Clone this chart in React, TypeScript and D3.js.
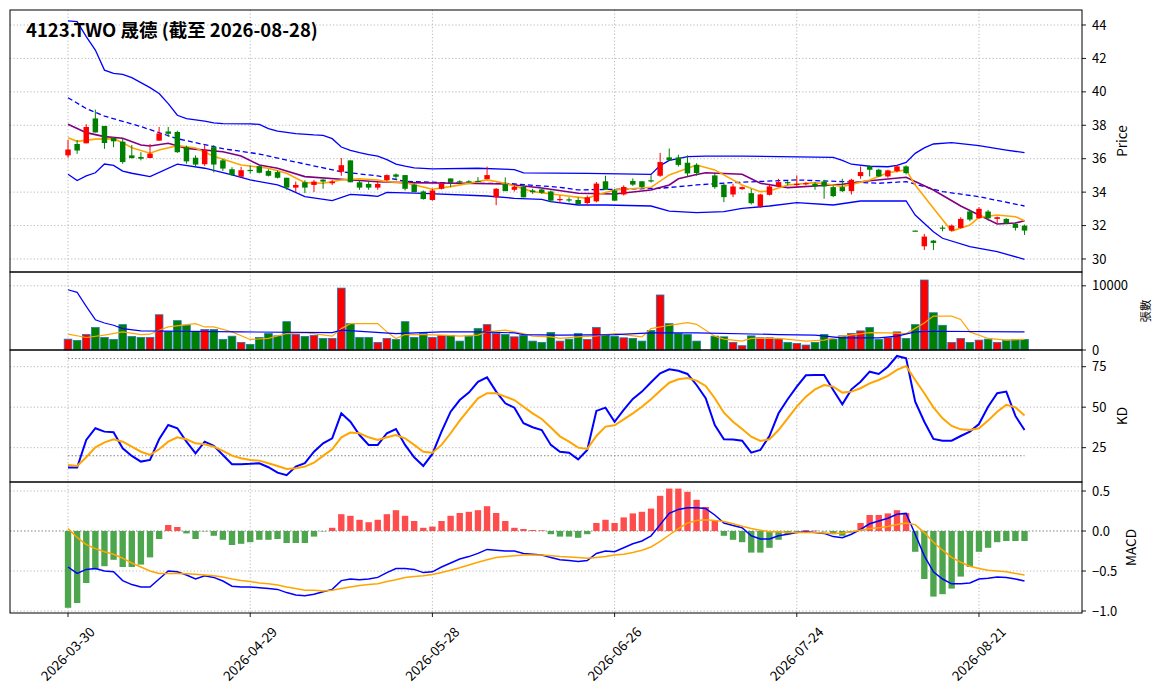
import React, { useEffect } from 'react';
import * as d3 from 'd3';

const title = '4123.TWO 晟德 (截至 2026-08-28)';
const xTickIndex = [0, 20, 40, 60, 80, 100];
const xTickLabels = ['2026-03-30', '2026-04-29', '2026-05-28', '2026-06-26', '2026-07-24', '2026-08-21'];

// OHLC per trading day (index 70 has no trade data)
const openP: (number | null)[] = [
  36.20, 36.88, 36.92, 38.41, 37.96, 37.24, 37.02, 36.20, 36.10, 36.04,
  37.08, 37.63, 37.60, 36.69, 36.06, 35.67, 36.69, 35.90, 35.37, 34.92,
  35.33, 35.55, 35.27, 35.20, 34.86, 34.27, 34.59, 34.43, 34.75, 34.53,
  35.22, 35.90, 34.59, 34.49, 34.27, 34.71, 35.06, 35.02, 34.45, 34.04,
  33.53, 34.20, 34.82, 34.65, 34.65, 34.67, 34.78, 33.69, 34.47, 34.14,
  34.31, 34.10, 34.16, 34.04, 33.53, 33.57, 33.53, 33.35, 33.45, 34.65,
  34.10, 33.86, 34.67, 34.65, 34.71, 34.98, 36.08, 36.08, 35.76, 35.63,
  null, 35.00, 34.44, 33.86, 34.18, 33.94, 33.14, 33.84, 34.34, 34.60,
  34.42, 34.48, 34.50, 34.64, 34.30, 34.30, 34.06, 34.96, 35.54, 35.34,
  34.94, 35.26, 35.54, 31.70, 30.76, 31.10, 31.88, 31.70, 31.86, 32.84,
  32.44, 32.84, 32.40, 32.40, 32.10, 32.00,
];
const highP: (number | null)[] = [
  37.12, 37.12, 38.06, 38.94, 37.96, 37.27, 37.18, 36.82, 36.39, 36.88,
  37.90, 37.90, 37.67, 36.78, 36.20, 36.82, 36.82, 36.00, 35.49, 35.51,
  35.60, 35.60, 35.37, 35.30, 34.86, 34.63, 34.71, 34.73, 34.78, 34.73,
  36.04, 35.90, 34.71, 34.67, 34.63, 35.06, 35.12, 35.02, 34.51, 34.10,
  34.20, 34.57, 34.82, 34.71, 34.71, 34.90, 35.53, 34.24, 34.88, 34.41,
  34.45, 34.20, 34.20, 34.10, 33.80, 33.69, 33.69, 33.80, 34.61, 34.98,
  34.20, 34.41, 34.82, 34.65, 35.02, 36.35, 36.61, 36.24, 36.20, 35.73,
  null, 35.10, 34.50, 34.50, 34.34, 34.20, 33.90, 34.50, 34.80, 34.66,
  35.00, 34.60, 34.60, 34.74, 34.40, 34.80, 34.80, 35.54, 35.60, 35.40,
  35.34, 35.60, 35.60, 31.70, 31.50, 31.14, 32.00, 32.06, 32.50, 32.94,
  33.10, 32.94, 32.54, 32.44, 32.20, 32.06,
];
const lowP: (number | null)[] = [
  36.06, 36.29, 36.92, 37.57, 36.59, 36.69, 35.70, 36.00, 35.90, 36.04,
  37.08, 37.31, 36.35, 35.70, 35.50, 35.57, 35.18, 35.27, 34.98, 34.92,
  35.12, 35.12, 34.94, 34.82, 34.14, 34.00, 33.94, 34.00, 34.20, 34.43,
  34.98, 34.59, 34.14, 34.14, 34.14, 34.65, 34.71, 34.10, 34.00, 33.55,
  33.49, 34.16, 34.30, 34.51, 34.57, 34.60, 34.78, 33.22, 34.06, 34.04,
  33.69, 33.90, 33.90, 33.39, 33.35, 33.39, 33.22, 33.22, 33.39, 34.14,
  33.49, 33.80, 34.37, 34.24, 34.57, 34.92, 35.90, 35.53, 34.92, 34.98,
  null, 34.20, 33.40, 33.70, 34.14, 33.26, 33.06, 33.80, 34.30, 34.40,
  34.30, 34.40, 34.14, 33.60, 33.70, 34.00, 33.86, 34.80, 34.94, 34.90,
  34.86, 35.18, 35.06, 31.66, 30.54, 30.54, 31.66, 31.66, 31.82, 32.26,
  32.40, 32.30, 32.14, 32.10, 31.70, 31.44,
];
const closeP: (number | null)[] = [
  36.55, 36.49, 37.90, 37.57, 36.94, 37.04, 35.80, 36.04, 36.00, 36.30,
  37.51, 37.49, 36.39, 35.84, 35.65, 36.53, 35.65, 35.41, 35.02, 35.31,
  35.27, 35.16, 34.98, 34.86, 34.27, 34.43, 34.27, 34.63, 34.63, 34.63,
  35.61, 34.59, 34.27, 34.27, 34.49, 35.02, 34.92, 34.20, 34.00, 33.59,
  34.10, 34.51, 34.61, 34.61, 34.61, 34.63, 35.02, 34.20, 34.06, 34.31,
  33.69, 34.00, 33.96, 33.49, 33.59, 33.55, 33.29, 33.69, 34.51, 34.14,
  33.49, 34.31, 34.45, 34.31, 34.67, 35.80, 35.90, 35.63, 35.12, 35.14,
  null, 34.30, 33.70, 34.34, 34.30, 33.34, 33.86, 34.34, 34.60, 34.54,
  34.50, 34.54, 34.34, 34.34, 33.76, 34.06, 34.74, 35.20, 35.34, 34.94,
  35.30, 35.54, 35.14, 31.66, 31.34, 30.96, 31.84, 32.00, 32.40, 32.36,
  33.00, 32.44, 32.50, 32.14, 31.86, 31.70,
];
const volume: (number | null)[] = [
  1690, 1490, 2410, 3490, 1950, 1640, 3950, 2100, 1950, 1950,
  5490, 2920, 4570, 3850, 2920, 3180, 3180, 1640, 2150, 1180,
  870, 1950, 2565, 2200, 4410, 2410, 2100, 2260, 1800, 1800,
  9640, 4100, 1950, 1950, 1180, 1800, 1640, 4410, 1950, 2565,
  1950, 2260, 2260, 1385, 2150, 3330, 3950, 2565, 2410, 2050,
  2260, 1385, 1180, 2720, 1385, 1690, 2565, 1640, 3490, 2310,
  2150, 1900, 1800, 1385, 3030, 8570, 4100, 2565, 2410, 1385,
  null, 2150, 2050, 1180, 670, 2200, 1900, 1900, 1690, 1180,
  1030, 770, 1180, 2410, 1690, 2200, 2565, 2975, 3490, 1640,
  1900, 2820, 1800, 3950, 10900, 5800, 3850, 1180, 1800, 1180,
  1540, 1690, 1180, 1540, 1640, 1640,
];

// Price overlays, read as [day index, value]
const bbUpper: [number, number][] = [
  [0, 44.25], [1, 44.2], [2, 43.3], [3, 42.5], [4, 41.3], [5, 41.1], [6, 41.05], [7, 40.85], [8, 40.55],
  [9, 40.25], [10, 39.9], [11, 39.3], [12, 38.6], [13, 38.4], [14, 38.32], [15, 38.25], [16, 38.15],
  [17, 38.1], [20, 38.08], [21, 38.05], [22, 37.8], [23, 37.65], [24, 37.58], [25, 37.5], [27, 37.42],
  [28, 37.4], [29, 37.2], [30, 36.7], [31, 36.5], [32, 36.36], [33, 36.25], [34, 36.15], [35, 35.95],
  [36, 35.68], [37, 35.55], [38, 35.45], [40, 35.39], [45, 35.43], [49, 35.35], [50, 35.15], [57, 35.12],
  [64, 35.06], [65, 35.59], [66, 35.9], [67, 36.0], [68, 36.12], [70, 36.16], [74, 36.16], [84, 36.08],
  [85, 35.9], [86, 35.67], [88, 35.55], [90, 35.52], [91, 35.6], [92, 35.78], [93, 36.32], [94, 36.65],
  [95, 36.88], [97, 36.96], [100, 36.78], [103, 36.52], [105, 36.36],
];
const bbMid: [number, number][] = [
  [0, 39.65], [2, 39.0], [4, 38.55], [8, 37.92], [12, 37.2], [17, 36.6], [21, 36.28], [25, 35.8],
  [30, 35.22], [32, 35.09], [34, 34.97], [37, 34.65], [43, 34.53], [48, 34.53], [54, 34.29], [56, 34.13],
  [60, 34.17], [65, 34.23], [67, 34.33], [69, 34.43], [73, 34.57], [80, 34.73], [85, 34.63], [89, 34.53],
  [92, 34.63], [96, 34.03], [100, 33.73], [105, 33.17],
];
const bbLower: [number, number][] = [
  [0, 35.07], [1, 34.69], [2, 34.97], [3, 35.16], [4, 35.68], [5, 35.6], [6, 35.26], [7, 35.13], [9, 34.93],
  [12, 35.67], [15, 35.43], [18, 35.03], [20, 34.73], [23, 34.43], [24, 34.23], [26, 33.73], [29, 33.49],
  [31, 33.87], [33, 33.8], [34, 33.75], [35, 33.99], [39, 33.93], [46, 33.77], [49, 33.63], [52, 33.57],
  [53, 33.43], [56, 33.23], [59, 33.23], [64, 33.17], [66, 32.87], [69, 32.77], [72, 32.83], [74, 33.03],
  [77, 33.17], [80, 33.37], [84, 33.23], [87, 33.47], [92, 33.47], [93, 32.63], [95, 31.63], [96, 31.24],
  [99, 30.74], [102, 30.44], [105, 29.98],
];
const ma10: [number, number][] = [
  [0, 38.06], [2, 37.56], [4, 37.32], [6, 37.22], [8, 36.82], [9, 36.76], [11, 36.92], [13, 36.62],
  [17, 36.42], [19, 36.16], [21, 35.62], [23, 35.43], [26, 34.93], [30, 34.77], [34, 34.62], [37, 34.57],
  [43, 34.53], [48, 34.49], [52, 34.25], [56, 33.93], [60, 33.89], [64, 34.13], [66, 34.43], [67, 34.8],
  [69, 35.05], [70, 35.16], [74, 35.07], [76, 34.53], [79, 34.27], [82, 34.37], [85, 34.47], [88, 34.68],
  [92, 34.89], [95, 34.13], [98, 33.17], [100, 32.63], [102, 32.09], [104, 32.15], [105, 32.29],
];
const ma5: [number, number][] = [
  [0, 37.25], [1, 37.04], [3, 37.17], [5, 37.2], [6, 36.96], [7, 36.66], [9, 36.33], [10, 36.52],
  [12, 36.78], [14, 36.64], [16, 36.15], [19, 35.62], [22, 35.43], [24, 35.13], [26, 34.57], [28, 34.53],
  [30, 34.73], [32, 34.8], [34, 34.73], [35, 34.62], [37, 34.57], [40, 34.17], [42, 34.33], [46, 34.73],
  [48, 34.53], [51, 34.03], [54, 33.83], [57, 33.63], [58, 33.83], [60, 34.13], [64, 34.29], [66, 35.03],
  [69, 35.62], [71, 35.33], [74, 34.43], [76, 34.03], [77, 34.07], [79, 34.43], [82, 34.57], [84, 34.43],
  [85, 34.33], [88, 34.73], [90, 35.16], [92, 35.33], [93, 34.43], [95, 33.03], [97, 31.67], [99, 32.03],
  [100, 32.49], [102, 32.63], [104, 32.53], [105, 32.29],
];
// Volume moving averages
const volMaLong: [number, number][] = [
  [0, 9390], [1, 8980], [2, 6800], [3, 4720], [4, 4200], [5, 3850], [6, 3330], [8, 2975], [12, 2920],
  [19, 2820], [29, 2720], [30, 3080], [33, 2820], [36, 2565], [41, 2820], [45, 2820], [49, 2670],
  [50, 2410], [54, 2310], [60, 2410], [64, 2670], [69, 2670], [78, 2410], [82, 2310], [85, 1900],
  [89, 1900], [91, 2150], [93, 2820], [95, 2920], [105, 2820],
];
const volMaShort: [number, number][] = [
  [0, 2460], [2, 1950], [4, 2310], [6, 2820], [8, 2410], [9, 2460], [10, 3080], [11, 3590], [14, 4100],
  [15, 3590], [16, 3590], [18, 2820], [20, 1640], [22, 1800], [24, 2565], [26, 2720], [29, 2150],
  [30, 3330], [31, 4100], [34, 4100], [35, 2820], [36, 1800], [37, 2410], [39, 2410], [41, 2310],
  [43, 2150], [45, 2310], [46, 2820], [48, 3080], [50, 2565], [51, 2150], [53, 2050], [54, 1800],
  [56, 2050], [58, 2200], [60, 2565], [63, 2050], [64, 3330], [66, 3850], [68, 4260], [69, 4000],
  [71, 2150], [72, 1690], [74, 1385], [75, 1800], [78, 1800], [81, 1385], [83, 1540], [85, 2150],
  [88, 2720], [90, 2670], [92, 2565], [94, 4200], [95, 5280], [97, 5280], [98, 4770], [99, 2820],
  [101, 1800], [103, 1540], [105, 1640],
];
const kValues = [
  12.7, 12.7, 29.8, 37.0, 34.9, 34.5, 24.6, 19.9, 16.4, 17.4,
  30.2, 39.0, 37.0, 28.7, 21.5, 28.7, 26.1, 20.5, 14.8, 14.8,
  15.0, 15.4, 12.9, 9.6, 8.0, 13.3, 15.4, 22.5, 27.7, 30.8,
  46.2, 41.0, 32.8, 26.7, 26.7, 33.9, 36.5, 26.7, 19.1, 13.7,
  21.1, 34.9, 47.2, 54.4, 59.0, 65.7, 68.4, 59.6, 52.4, 49.7,
  40.1, 37.6, 35.9, 26.7, 22.5, 21.9, 17.8, 23.6, 47.7, 49.7,
  41.0, 48.3, 55.1, 59.6, 65.4, 70.9, 73.4, 72.5, 70.5, 63.7,
  55.5, 39.0, 30.2, 30.0, 29.3, 21.9, 23.6, 32.2, 46.2, 54.9,
  62.7, 69.7, 69.9, 69.9, 60.6, 51.8, 61.0, 65.7, 71.9, 70.5,
  75.0, 81.6, 80.2, 53.4, 41.0, 30.4, 29.3, 29.3, 32.2, 34.9,
  39.6, 50.3, 58.6, 59.6, 44.6, 35.9,
];
const dValues = [
  14.3, 13.7, 19.1, 25.2, 28.3, 30.2, 28.7, 25.6, 22.5, 20.5,
  24.0, 28.7, 31.4, 30.2, 27.7, 27.1, 25.6, 23.0, 20.1, 18.5,
  17.4, 17.0, 15.4, 13.7, 11.9, 12.3, 13.3, 15.7, 19.9, 24.0,
  31.4, 34.3, 33.9, 31.4, 29.8, 31.4, 32.8, 30.8, 26.7, 22.5,
  21.9, 26.7, 33.9, 41.7, 48.7, 55.5, 58.6, 58.6, 56.5, 54.4,
  50.3, 46.2, 42.7, 37.5, 32.0, 28.7, 25.0, 24.2, 32.2, 38.0,
  38.8, 42.5, 46.2, 50.3, 54.9, 60.2, 65.1, 67.2, 68.0, 66.4,
  63.1, 55.5, 46.6, 41.0, 36.5, 31.8, 29.1, 30.2, 35.9, 43.1,
  50.3, 56.5, 61.0, 63.7, 62.7, 59.0, 59.6, 61.7, 64.7, 66.8,
  69.3, 73.0, 75.4, 66.8, 58.6, 49.9, 43.1, 38.4, 36.3, 35.9,
  37.0, 41.7, 47.2, 51.4, 49.9, 44.8,
];
const difValues = [
  -0.45, -0.53, -0.48, -0.47, -0.50, -0.51, -0.62, -0.67, -0.70, -0.70,
  -0.60, -0.50, -0.51, -0.55, -0.60, -0.56, -0.58, -0.625, -0.69, -0.70,
  -0.70, -0.71, -0.72, -0.73, -0.77, -0.80, -0.81, -0.79, -0.76, -0.73,
  -0.62, -0.60, -0.61, -0.60, -0.58, -0.52, -0.47, -0.47, -0.48, -0.52,
  -0.51, -0.45, -0.40, -0.35, -0.32, -0.28, -0.23, -0.24, -0.25, -0.25,
  -0.28, -0.29, -0.30, -0.33, -0.36, -0.37, -0.38, -0.37, -0.28, -0.25,
  -0.26, -0.21, -0.16, -0.125, -0.06, 0.08, 0.22, 0.27, 0.29, 0.29,
  0.28, 0.20, 0.10, 0.07, 0.04, -0.06, -0.10, -0.10, -0.06, -0.04,
  -0.02, -0.01, -0.02, -0.03, -0.07, -0.085, -0.04, 0.02, 0.09, 0.125,
  0.16, 0.21, 0.22, -0.04, -0.31, -0.51, -0.60, -0.66, -0.66, -0.65,
  -0.60, -0.59, -0.575, -0.58, -0.60, -0.625,
];
const deaValues = [
  0.03, -0.08, -0.17, -0.22, -0.26, -0.29, -0.34, -0.40, -0.45, -0.50,
  -0.53, -0.53, -0.53, -0.535, -0.54, -0.55, -0.56, -0.575, -0.60, -0.62,
  -0.63, -0.65, -0.66, -0.675, -0.70, -0.72, -0.74, -0.74, -0.75, -0.74,
  -0.72, -0.70, -0.68, -0.67, -0.66, -0.63, -0.61, -0.58, -0.57, -0.56,
  -0.545, -0.52, -0.49, -0.46, -0.425, -0.39, -0.36, -0.33, -0.32, -0.31,
  -0.30, -0.30, -0.30, -0.31, -0.32, -0.325, -0.33, -0.34, -0.33, -0.32,
  -0.30, -0.29, -0.27, -0.24, -0.20, -0.13, -0.05, 0.03, 0.10, 0.13,
  0.14, 0.13, 0.12, 0.09, 0.06, 0.03, 0.01, -0.01, -0.01, -0.02,
  -0.02, -0.02, -0.02, -0.025, -0.03, -0.025, -0.01, 0.01, 0.03, 0.04,
  0.055, 0.08, 0.10, 0.08, -0.02, -0.14, -0.24, -0.33, -0.39, -0.44,
  -0.47, -0.49, -0.50, -0.51, -0.53, -0.55,
];
const histValues = [
  -0.96, -0.90, -0.65, -0.48, -0.44, -0.36, -0.45, -0.45, -0.42, -0.33,
  -0.10, 0.075, 0.05, -0.03, -0.10, -0.005, -0.06, -0.11, -0.175, -0.16,
  -0.14, -0.11, -0.11, -0.10, -0.15, -0.15, -0.15, -0.07, -0.005, 0.04,
  0.21, 0.19, 0.14, 0.11, 0.14, 0.21, 0.26, 0.19, 0.125, 0.04,
  0.055, 0.125, 0.19, 0.225, 0.24, 0.26, 0.31, 0.225, 0.125, 0.04,
  0.025, 0.012, 0.008, -0.04, -0.07, -0.07, -0.085, -0.04, 0.10, 0.14,
  0.10, 0.17, 0.22, 0.24, 0.28, 0.44, 0.53, 0.53, 0.49, 0.39,
  0.30, 0.125, -0.06, -0.11, -0.14, -0.27, -0.27, -0.21, -0.11, -0.04,
  -0.01, 0.012, 0.005, -0.005, -0.04, -0.06, -0.02, 0.10, 0.20, 0.20,
  0.22, 0.26, 0.225, -0.26, -0.60, -0.82, -0.79, -0.72, -0.57, -0.45,
  -0.26, -0.21, -0.14, -0.125, -0.125, -0.125,
];

const priceTicks = [30, 32, 34, 36, 38, 40, 42, 44];
const volTicks = [0, 10000];
const kdTicks = [25, 50, 75];
const kdGuides = [80, 20];
const macdTicks = [0.5, 0.0, -0.5, -1.0];

const W = 1163;
const H = 698;
const L = 10;
const R = 1082;
const FONT = "'Noto Sans CJK TC', 'Noto Sans', sans-serif";
const UP = '#ff0000';
const DOWN = '#008000';
const GRID = '#b0b0b0';

export default function App() {
  useEffect(() => {
    document.body.style.margin = '0';
    document.body.style.overflow = 'hidden';
  }, []);

  const n = closeP.length;
  const x = d3.scaleLinear().domain([-6.37, 111.31]).range([L, R]);
  const step = x(1) - x(0);

  const panels = {
    price: { top: 10, bottom: 272 },
    vol: { top: 272, bottom: 350 },
    kd: { top: 350, bottom: 482 },
    macd: { top: 482, bottom: 613 },
  };
  const yP = d3.scaleLinear().domain([29.222, 44.897]).range([panels.price.bottom, panels.price.top]);
  const yV = d3.scaleLinear().domain([0, 12150]).range([panels.vol.bottom, panels.vol.top]);
  const yK = d3.scaleLinear().domain([3.8, 85.3]).range([panels.kd.bottom, panels.kd.top]);
  const yM = d3.scaleLinear().domain([-1.025, 0.6125]).range([panels.macd.bottom, panels.macd.top]);

  const pairLine = (ys: d3.ScaleLinear<number, number>) =>
    d3.line<[number, number]>().x((d) => x(d[0])).y((d) => ys(d[1]));
  const arrLine = (ys: d3.ScaleLinear<number, number>) =>
    d3.line<number>().x((_, i) => x(i)).y((d) => ys(d));

  const idx = d3.range(n);

  const vGrid = (top: number, bottom: number) =>
    xTickIndex.map((t) => (
      <line key={'vg' + top + '-' + t} x1={x(t)} x2={x(t)} y1={top} y2={bottom} stroke={GRID} strokeWidth={0.9} strokeDasharray="1.2,2.2" />
    ));
  const hGrid = (ticks: number[], ys: d3.ScaleLinear<number, number>, k: string) =>
    ticks.map((t) => (
      <line key={k + t} x1={L} x2={R} y1={ys(t)} y2={ys(t)} stroke={GRID} strokeWidth={0.9} strokeDasharray="1.2,2.2" />
    ));
  const rightTicks = (ticks: number[], ys: d3.ScaleLinear<number, number>, fmt: (v: number) => string, k: string) =>
    ticks.map((t) => (
      <g key={k + t}>
        <line x1={R} x2={R + 4} y1={ys(t)} y2={ys(t)} stroke="#000" strokeWidth={0.9} />
        <text x={R + 10} y={ys(t)} dy="0.35em" fontSize={13} fill="#000">{fmt(t)}</text>
      </g>
    ));

  const fmt1 = d3.format('.1f');

  return (
    <svg width={W} height={H} style={{ position: 'absolute', left: 0, top: 0, background: '#fff' }} fontFamily={FONT}>
      <rect x={0} y={0} width={W} height={H} fill="#fff" />

      {/* grids */}
      {vGrid(panels.price.top, panels.price.bottom)}
      {vGrid(panels.vol.top, panels.vol.bottom)}
      {vGrid(panels.kd.top, panels.kd.bottom)}
      {vGrid(panels.macd.top, panels.macd.bottom)}
      {hGrid(priceTicks, yP, 'hp')}
      {hGrid([10000], yV, 'hv')}
      {hGrid(kdTicks, yK, 'hk')}
      {hGrid(macdTicks.filter((t) => t !== 0), yM, 'hm')}

      {/* price overlays */}
      <path d={pairLine(yP)(bbUpper) || ''} fill="none" stroke="#0000ff" strokeWidth={1.3} />
      <path d={pairLine(yP)(bbLower) || ''} fill="none" stroke="#0000ff" strokeWidth={1.3} />
      <path d={pairLine(yP)(bbMid) || ''} fill="none" stroke="#0000ff" strokeWidth={1.3} strokeDasharray="5,3" />
      <path d={pairLine(yP)(ma10) || ''} fill="none" stroke="#800080" strokeWidth={1.6} />
      <path d={pairLine(yP)(ma5) || ''} fill="none" stroke="#ffa500" strokeWidth={1.6} />

      {/* candles */}
      {idx.map((i) => {
        const o = openP[i], c = closeP[i], h = highP[i], l = lowP[i];
        if (o == null || c == null || h == null || l == null) return null;
        const col = c >= o ? UP : DOWN;
        const top = yP(Math.max(o, c));
        const bh = Math.max(1.2, yP(Math.min(o, c)) - top);
        const bw = step * 0.6;
        return (
          <g key={'c' + i}>
            <line x1={x(i)} x2={x(i)} y1={yP(h)} y2={yP(l)} stroke={col} strokeWidth={1} />
            <rect x={x(i) - bw / 2} y={top} width={bw} height={bh} fill={col} />
          </g>
        );
      })}

      {/* volume */}
      {idx.map((i) => {
        const v = volume[i], o = openP[i], c = closeP[i];
        if (v == null || o == null || c == null) return null;
        const bw = step * 0.84;
        return (
          <rect key={'v' + i} x={x(i) - bw / 2} y={yV(v)} width={bw} height={yV(0) - yV(v)}
            fill={c >= o ? UP : DOWN} stroke="#1f77b4" strokeWidth={0.8} />
        );
      })}
      <path d={pairLine(yV)(volMaShort) || ''} fill="none" stroke="#ffa500" strokeWidth={1.2} />
      <path d={pairLine(yV)(volMaLong) || ''} fill="none" stroke="#0000ff" strokeWidth={1.2} />

      {/* KD */}
      {kdGuides.map((g) => (
        <line key={'kg' + g} x1={x(0)} x2={x(n - 1)} y1={yK(g)} y2={yK(g)} stroke="#808080" strokeWidth={1} strokeDasharray="1.5,2" />
      ))}
      <path d={arrLine(yK)(kValues) || ''} fill="none" stroke="#0000ff" strokeWidth={2} />
      <path d={arrLine(yK)(dValues) || ''} fill="none" stroke="#ffa500" strokeWidth={2} />

      {/* MACD */}
      <line x1={L} x2={R} y1={yM(0)} y2={yM(0)} stroke="#808080" strokeWidth={1} strokeDasharray="1.5,2" />
      {histValues.map((v, i) => {
        const bw = step * 0.7;
        return (
          <rect key={'h' + i} x={x(i) - bw / 2} y={Math.min(yM(v), yM(0))} width={bw}
            height={Math.abs(yM(v) - yM(0))} fill={v >= 0 ? '#ff4d4d' : '#4da64d'} />
        );
      })}
      <path d={arrLine(yM)(difValues) || ''} fill="none" stroke="#0000ff" strokeWidth={1.5} />
      <path d={arrLine(yM)(deaValues) || ''} fill="none" stroke="#ffa500" strokeWidth={1.5} />

      {/* frames */}
      {Object.values(panels).map((p, k) => (
        <rect key={'f' + k} x={L} y={p.top} width={R - L} height={p.bottom - p.top} fill="none" stroke="#000" strokeWidth={1} />
      ))}

      {/* right axes */}
      {rightTicks(priceTicks, yP, (v) => String(v), 'tp')}
      {rightTicks(volTicks, yV, (v) => String(v), 'tv')}
      {rightTicks(kdTicks, yK, (v) => String(v), 'tk')}
      {rightTicks(macdTicks, yM, fmt1, 'tm')}

      <text transform={`translate(1122,${(panels.price.top + panels.price.bottom) / 2}) rotate(-90)`} textAnchor="middle" dy="0.35em" fontSize={13.5}>Price</text>
      <text transform={`translate(1146,${(panels.vol.top + panels.vol.bottom) / 2}) rotate(-90)`} textAnchor="middle" dy="0.35em" fontSize={11.5}>張數</text>
      <text transform={`translate(1122,${(panels.kd.top + panels.kd.bottom) / 2}) rotate(-90)`} textAnchor="middle" dy="0.35em" fontSize={13.5}>KD</text>
      <text transform={`translate(1131,${(panels.macd.top + panels.macd.bottom) / 2}) rotate(-90)`} textAnchor="middle" dy="0.35em" fontSize={13.5}>MACD</text>

      {/* x axis */}
      {xTickIndex.map((t, k) => (
        <g key={'xt' + t}>
          <line x1={x(t)} x2={x(t)} y1={panels.macd.bottom} y2={panels.macd.bottom + 4} stroke="#000" strokeWidth={0.9} />
          <text transform={`translate(${x(t)},654) rotate(-45)`} textAnchor="middle" dy="0.35em" fontSize={13.5}>{xTickLabels[k]}</text>
        </g>
      ))}

      <text x={26} y={37} fontSize={18.5} fontWeight="bold" fill="#000">{title}</text>
    </svg>
  );
}
